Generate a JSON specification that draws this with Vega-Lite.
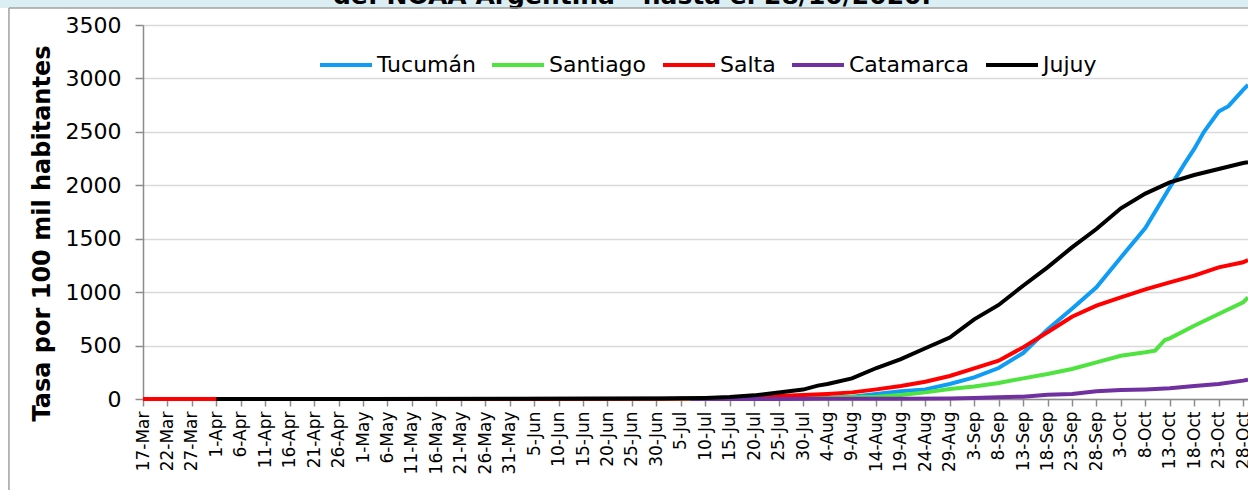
{
  "$schema": "https://vega.github.io/schema/vega-lite/v6.json",
  "width": 1105,
  "height": 374,
  "autosize": {"type": "none"},
  "padding": {"left": 143, "top": 25, "right": 0, "bottom": 91},
  "background": "white",
  "config": {"font": "DejaVu Sans", "view": {"stroke": null}},
  "resolve": {"axis": {"x": "independent", "y": "independent"}},
  "layer": [
    {
      "data": {
        "values": [
          {"provincia": "Tucumán", "fecha": "2020-03-17", "tasa": 0},
          {"provincia": "Tucumán", "fecha": "2020-04-01", "tasa": 0.5},
          {"provincia": "Tucumán", "fecha": "2020-05-01", "tasa": 0.8},
          {"provincia": "Tucumán", "fecha": "2020-06-01", "tasa": 1},
          {"provincia": "Tucumán", "fecha": "2020-07-01", "tasa": 2},
          {"provincia": "Tucumán", "fecha": "2020-07-15", "tasa": 4},
          {"provincia": "Tucumán", "fecha": "2020-07-25", "tasa": 5},
          {"provincia": "Tucumán", "fecha": "2020-07-30", "tasa": 7},
          {"provincia": "Tucumán", "fecha": "2020-08-04", "tasa": 9},
          {"provincia": "Tucumán", "fecha": "2020-08-09", "tasa": 22},
          {"provincia": "Tucumán", "fecha": "2020-08-14", "tasa": 47},
          {"provincia": "Tucumán", "fecha": "2020-08-19", "tasa": 72},
          {"provincia": "Tucumán", "fecha": "2020-08-24", "tasa": 90},
          {"provincia": "Tucumán", "fecha": "2020-08-29", "tasa": 140},
          {"provincia": "Tucumán", "fecha": "2020-09-03", "tasa": 203},
          {"provincia": "Tucumán", "fecha": "2020-09-08", "tasa": 290},
          {"provincia": "Tucumán", "fecha": "2020-09-13", "tasa": 430},
          {"provincia": "Tucumán", "fecha": "2020-09-18", "tasa": 650},
          {"provincia": "Tucumán", "fecha": "2020-09-23", "tasa": 845},
          {"provincia": "Tucumán", "fecha": "2020-09-28", "tasa": 1045},
          {"provincia": "Tucumán", "fecha": "2020-10-03", "tasa": 1325},
          {"provincia": "Tucumán", "fecha": "2020-10-08", "tasa": 1600},
          {"provincia": "Tucumán", "fecha": "2020-10-13", "tasa": 1980},
          {"provincia": "Tucumán", "fecha": "2020-10-16", "tasa": 2200},
          {"provincia": "Tucumán", "fecha": "2020-10-18", "tasa": 2340},
          {"provincia": "Tucumán", "fecha": "2020-10-20", "tasa": 2500},
          {"provincia": "Tucumán", "fecha": "2020-10-23", "tasa": 2690},
          {"provincia": "Tucumán", "fecha": "2020-10-25", "tasa": 2740},
          {"provincia": "Tucumán", "fecha": "2020-10-28", "tasa": 2892},
          {"provincia": "Tucumán", "fecha": "2020-10-29", "tasa": 2940},

          {"provincia": "Santiago", "fecha": "2020-03-17", "tasa": 0},
          {"provincia": "Santiago", "fecha": "2020-04-01", "tasa": 0},
          {"provincia": "Santiago", "fecha": "2020-05-01", "tasa": 0.2},
          {"provincia": "Santiago", "fecha": "2020-06-01", "tasa": 0.5},
          {"provincia": "Santiago", "fecha": "2020-07-01", "tasa": 1},
          {"provincia": "Santiago", "fecha": "2020-07-15", "tasa": 3},
          {"provincia": "Santiago", "fecha": "2020-07-25", "tasa": 6},
          {"provincia": "Santiago", "fecha": "2020-08-04", "tasa": 10},
          {"provincia": "Santiago", "fecha": "2020-08-09", "tasa": 16},
          {"provincia": "Santiago", "fecha": "2020-08-14", "tasa": 22},
          {"provincia": "Santiago", "fecha": "2020-08-19", "tasa": 37},
          {"provincia": "Santiago", "fecha": "2020-08-24", "tasa": 62},
          {"provincia": "Santiago", "fecha": "2020-08-29", "tasa": 94},
          {"provincia": "Santiago", "fecha": "2020-09-03", "tasa": 118},
          {"provincia": "Santiago", "fecha": "2020-09-08", "tasa": 150},
          {"provincia": "Santiago", "fecha": "2020-09-13", "tasa": 193},
          {"provincia": "Santiago", "fecha": "2020-09-18", "tasa": 234},
          {"provincia": "Santiago", "fecha": "2020-09-23", "tasa": 281},
          {"provincia": "Santiago", "fecha": "2020-09-28", "tasa": 343},
          {"provincia": "Santiago", "fecha": "2020-10-03", "tasa": 405},
          {"provincia": "Santiago", "fecha": "2020-10-08", "tasa": 437},
          {"provincia": "Santiago", "fecha": "2020-10-10", "tasa": 452},
          {"provincia": "Santiago", "fecha": "2020-10-12", "tasa": 552},
          {"provincia": "Santiago", "fecha": "2020-10-13", "tasa": 568},
          {"provincia": "Santiago", "fecha": "2020-10-18", "tasa": 686},
          {"provincia": "Santiago", "fecha": "2020-10-23", "tasa": 795},
          {"provincia": "Santiago", "fecha": "2020-10-28", "tasa": 904},
          {"provincia": "Santiago", "fecha": "2020-10-29", "tasa": 951},

          {"provincia": "Salta", "fecha": "2020-03-17", "tasa": 0.3},
          {"provincia": "Salta", "fecha": "2020-04-01", "tasa": 0.4},
          {"provincia": "Salta", "fecha": "2020-05-01", "tasa": 0.5},
          {"provincia": "Salta", "fecha": "2020-06-01", "tasa": 0.8},
          {"provincia": "Salta", "fecha": "2020-07-01", "tasa": 2},
          {"provincia": "Salta", "fecha": "2020-07-10", "tasa": 5},
          {"provincia": "Salta", "fecha": "2020-07-15", "tasa": 9},
          {"provincia": "Salta", "fecha": "2020-07-20", "tasa": 18},
          {"provincia": "Salta", "fecha": "2020-07-25", "tasa": 28},
          {"provincia": "Salta", "fecha": "2020-07-30", "tasa": 37},
          {"provincia": "Salta", "fecha": "2020-08-04", "tasa": 47},
          {"provincia": "Salta", "fecha": "2020-08-09", "tasa": 62},
          {"provincia": "Salta", "fecha": "2020-08-14", "tasa": 90},
          {"provincia": "Salta", "fecha": "2020-08-19", "tasa": 122},
          {"provincia": "Salta", "fecha": "2020-08-24", "tasa": 162},
          {"provincia": "Salta", "fecha": "2020-08-29", "tasa": 215},
          {"provincia": "Salta", "fecha": "2020-09-03", "tasa": 287},
          {"provincia": "Salta", "fecha": "2020-09-08", "tasa": 359},
          {"provincia": "Salta", "fecha": "2020-09-13", "tasa": 483},
          {"provincia": "Salta", "fecha": "2020-09-18", "tasa": 624},
          {"provincia": "Salta", "fecha": "2020-09-23", "tasa": 770},
          {"provincia": "Salta", "fecha": "2020-09-28", "tasa": 873},
          {"provincia": "Salta", "fecha": "2020-10-03", "tasa": 951},
          {"provincia": "Salta", "fecha": "2020-10-08", "tasa": 1026},
          {"provincia": "Salta", "fecha": "2020-10-13", "tasa": 1092},
          {"provincia": "Salta", "fecha": "2020-10-18", "tasa": 1154},
          {"provincia": "Salta", "fecha": "2020-10-23", "tasa": 1232},
          {"provincia": "Salta", "fecha": "2020-10-28", "tasa": 1279},
          {"provincia": "Salta", "fecha": "2020-10-29", "tasa": 1300},

          {"provincia": "Catamarca", "fecha": "2020-07-07", "tasa": 0},
          {"provincia": "Catamarca", "fecha": "2020-07-20", "tasa": 1},
          {"provincia": "Catamarca", "fecha": "2020-08-04", "tasa": 2},
          {"provincia": "Catamarca", "fecha": "2020-08-19", "tasa": 3},
          {"provincia": "Catamarca", "fecha": "2020-08-29", "tasa": 5},
          {"provincia": "Catamarca", "fecha": "2020-09-03", "tasa": 9},
          {"provincia": "Catamarca", "fecha": "2020-09-08", "tasa": 16},
          {"provincia": "Catamarca", "fecha": "2020-09-13", "tasa": 22},
          {"provincia": "Catamarca", "fecha": "2020-09-18", "tasa": 40},
          {"provincia": "Catamarca", "fecha": "2020-09-23", "tasa": 47},
          {"provincia": "Catamarca", "fecha": "2020-09-28", "tasa": 72},
          {"provincia": "Catamarca", "fecha": "2020-10-03", "tasa": 84},
          {"provincia": "Catamarca", "fecha": "2020-10-08", "tasa": 90},
          {"provincia": "Catamarca", "fecha": "2020-10-13", "tasa": 100},
          {"provincia": "Catamarca", "fecha": "2020-10-18", "tasa": 122},
          {"provincia": "Catamarca", "fecha": "2020-10-23", "tasa": 140},
          {"provincia": "Catamarca", "fecha": "2020-10-28", "tasa": 172},
          {"provincia": "Catamarca", "fecha": "2020-10-29", "tasa": 181},

          {"provincia": "Jujuy", "fecha": "2020-04-01", "tasa": 0.3},
          {"provincia": "Jujuy", "fecha": "2020-05-01", "tasa": 1},
          {"provincia": "Jujuy", "fecha": "2020-06-01", "tasa": 2},
          {"provincia": "Jujuy", "fecha": "2020-07-01", "tasa": 4},
          {"provincia": "Jujuy", "fecha": "2020-07-05", "tasa": 6},
          {"provincia": "Jujuy", "fecha": "2020-07-10", "tasa": 10},
          {"provincia": "Jujuy", "fecha": "2020-07-15", "tasa": 18},
          {"provincia": "Jujuy", "fecha": "2020-07-20", "tasa": 34},
          {"provincia": "Jujuy", "fecha": "2020-07-25", "tasa": 60},
          {"provincia": "Jujuy", "fecha": "2020-07-30", "tasa": 88},
          {"provincia": "Jujuy", "fecha": "2020-08-02", "tasa": 125},
          {"provincia": "Jujuy", "fecha": "2020-08-04", "tasa": 140},
          {"provincia": "Jujuy", "fecha": "2020-08-09", "tasa": 193},
          {"provincia": "Jujuy", "fecha": "2020-08-14", "tasa": 290},
          {"provincia": "Jujuy", "fecha": "2020-08-19", "tasa": 374},
          {"provincia": "Jujuy", "fecha": "2020-08-24", "tasa": 475},
          {"provincia": "Jujuy", "fecha": "2020-08-29", "tasa": 575},
          {"provincia": "Jujuy", "fecha": "2020-09-03", "tasa": 745},
          {"provincia": "Jujuy", "fecha": "2020-09-08", "tasa": 880},
          {"provincia": "Jujuy", "fecha": "2020-09-13", "tasa": 1060},
          {"provincia": "Jujuy", "fecha": "2020-09-18", "tasa": 1232},
          {"provincia": "Jujuy", "fecha": "2020-09-23", "tasa": 1419},
          {"provincia": "Jujuy", "fecha": "2020-09-28", "tasa": 1591},
          {"provincia": "Jujuy", "fecha": "2020-10-03", "tasa": 1785},
          {"provincia": "Jujuy", "fecha": "2020-10-08", "tasa": 1922},
          {"provincia": "Jujuy", "fecha": "2020-10-13", "tasa": 2027},
          {"provincia": "Jujuy", "fecha": "2020-10-18", "tasa": 2096},
          {"provincia": "Jujuy", "fecha": "2020-10-23", "tasa": 2152},
          {"provincia": "Jujuy", "fecha": "2020-10-28", "tasa": 2208},
          {"provincia": "Jujuy", "fecha": "2020-10-29", "tasa": 2215}
        ]
      },
      "mark": {"type": "line", "strokeWidth": 4},
      "encoding": {
        "x": {
          "field": "fecha",
          "type": "temporal",
          "scale": {
            "type": "utc",
            "nice": false,
            "domain": [
              {"year": 2020, "month": 3, "date": 17, "utc": true},
              {"year": 2020, "month": 10, "date": 29, "utc": true}
            ]
          },
          "axis": {
            "title": null,
            "grid": false,
            "format": "%-d-%b",
            "labelAngle": -90,
            "labelFontSize": 17,
            "labelFont": "DejaVu Sans",
            "labelColor": "black",
            "labelPadding": 5,
            "labelOverlap": false,
            "labelFlush": false,
            "labelBound": false,
            "tickSize": 7,
            "tickColor": "#8c8c8c",
            "tickWidth": 1.5,
            "domainColor": "#8c8c8c",
            "domainWidth": 1.5,
            "values": [
              {"year": 2020, "month": 3, "date": 17, "utc": true},
              {"year": 2020, "month": 3, "date": 22, "utc": true},
              {"year": 2020, "month": 3, "date": 27, "utc": true},
              {"year": 2020, "month": 4, "date": 1, "utc": true},
              {"year": 2020, "month": 4, "date": 6, "utc": true},
              {"year": 2020, "month": 4, "date": 11, "utc": true},
              {"year": 2020, "month": 4, "date": 16, "utc": true},
              {"year": 2020, "month": 4, "date": 21, "utc": true},
              {"year": 2020, "month": 4, "date": 26, "utc": true},
              {"year": 2020, "month": 5, "date": 1, "utc": true},
              {"year": 2020, "month": 5, "date": 6, "utc": true},
              {"year": 2020, "month": 5, "date": 11, "utc": true},
              {"year": 2020, "month": 5, "date": 16, "utc": true},
              {"year": 2020, "month": 5, "date": 21, "utc": true},
              {"year": 2020, "month": 5, "date": 26, "utc": true},
              {"year": 2020, "month": 5, "date": 31, "utc": true},
              {"year": 2020, "month": 6, "date": 5, "utc": true},
              {"year": 2020, "month": 6, "date": 10, "utc": true},
              {"year": 2020, "month": 6, "date": 15, "utc": true},
              {"year": 2020, "month": 6, "date": 20, "utc": true},
              {"year": 2020, "month": 6, "date": 25, "utc": true},
              {"year": 2020, "month": 6, "date": 30, "utc": true},
              {"year": 2020, "month": 7, "date": 5, "utc": true},
              {"year": 2020, "month": 7, "date": 10, "utc": true},
              {"year": 2020, "month": 7, "date": 15, "utc": true},
              {"year": 2020, "month": 7, "date": 20, "utc": true},
              {"year": 2020, "month": 7, "date": 25, "utc": true},
              {"year": 2020, "month": 7, "date": 30, "utc": true},
              {"year": 2020, "month": 8, "date": 4, "utc": true},
              {"year": 2020, "month": 8, "date": 9, "utc": true},
              {"year": 2020, "month": 8, "date": 14, "utc": true},
              {"year": 2020, "month": 8, "date": 19, "utc": true},
              {"year": 2020, "month": 8, "date": 24, "utc": true},
              {"year": 2020, "month": 8, "date": 29, "utc": true},
              {"year": 2020, "month": 9, "date": 3, "utc": true},
              {"year": 2020, "month": 9, "date": 8, "utc": true},
              {"year": 2020, "month": 9, "date": 13, "utc": true},
              {"year": 2020, "month": 9, "date": 18, "utc": true},
              {"year": 2020, "month": 9, "date": 23, "utc": true},
              {"year": 2020, "month": 9, "date": 28, "utc": true},
              {"year": 2020, "month": 10, "date": 3, "utc": true},
              {"year": 2020, "month": 10, "date": 8, "utc": true},
              {"year": 2020, "month": 10, "date": 13, "utc": true},
              {"year": 2020, "month": 10, "date": 18, "utc": true},
              {"year": 2020, "month": 10, "date": 23, "utc": true},
              {"year": 2020, "month": 10, "date": 28, "utc": true}
            ]
          }
        },
        "y": {
          "field": "tasa",
          "type": "quantitative",
          "scale": {"domain": [0, 3500], "nice": false, "zero": true},
          "axis": {
            "title": "Tasa por 100 mil habitantes",
            "titleFont": "DejaVu Sans",
            "titleFontSize": 24,
            "titleFontWeight": "bold",
            "titleColor": "black",
            "titlePadding": 11,
            "titleY": 208,
            "format": "d",
            "values": [0, 500, 1000, 1500, 2000, 2500, 3000, 3500],
            "labelFont": "DejaVu Sans",
            "labelFontSize": 22,
            "labelColor": "black",
            "labelPadding": 14,
            "tickSize": 8,
            "tickColor": "#8c8c8c",
            "tickWidth": 1.5,
            "domainColor": "#8c8c8c",
            "domainWidth": 1.5,
            "grid": true,
            "gridColor": "#d9d9d9",
            "gridWidth": 1.5
          }
        },
        "color": {
          "field": "provincia",
          "type": "nominal",
          "scale": {
            "domain": ["Tucumán", "Santiago", "Salta", "Catamarca", "Jujuy"],
            "range": ["#0f9cf5", "#4fe33f", "#ff0000", "#7030a0", "#000000"]
          },
          "legend": {
            "title": null,
            "orient": "none",
            "legendX": 175,
            "legendY": 12,
            "direction": "horizontal",
            "symbolType": "stroke",
            "symbolSize": 2704,
            "symbolStrokeWidth": 4,
            "labelFont": "DejaVu Sans",
            "labelFontSize": 22,
            "labelColor": "black",
            "labelOffset": 3,
            "columnPadding": 8,
            "labelLimit": 300
          }
        }
      }
    },
    {
      "data": {"values": [{}]},
      "mark": {"type": "rect", "color": "#dbeef4"},
      "encoding": {
        "x": {"datum": {"year": 2020, "month": 2, "date": 1, "utc": true}, "type": "temporal", "axis": null},
        "x2": {"datum": {"year": 2020, "month": 12, "date": 1, "utc": true}},
        "y": {"datum": 3660, "type": "quantitative", "axis": null},
        "y2": {"datum": 3734}
      }
    },
    {
      "data": {"values": [{}]},
      "mark": {"type": "text", "fontSize": 25, "fontWeight": "bold", "font": "DejaVu Sans", "color": "black", "baseline": "alphabetic", "align": "center"},
      "encoding": {
        "x": {"datum": {"year": 2020, "month": 6, "date": 25, "utc": true}, "type": "temporal", "axis": null},
        "y": {"datum": 3692, "type": "quantitative", "axis": null},
        "text": {"value": "de: NOAA Argentina - hasta el 28/10/2020."}
      }
    },
    {
      "data": {"values": [{}]},
      "mark": {"type": "rule", "color": "#a0a0a0", "strokeWidth": 1.5},
      "encoding": {
        "x": {"datum": {"year": 2020, "month": 2, "date": 18, "hours": 14, "utc": true}, "type": "temporal", "axis": null},
        "x2": {"datum": {"year": 2020, "month": 12, "date": 1, "utc": true}},
        "y": {"datum": 3660, "type": "quantitative", "axis": null}
      }
    },
    {
      "data": {"values": [{}]},
      "mark": {"type": "rule", "color": "#a0a0a0", "strokeWidth": 1.5},
      "encoding": {
        "x": {"datum": {"year": 2020, "month": 2, "date": 18, "hours": 14, "utc": true}, "type": "temporal", "axis": null},
        "y": {"datum": 3660, "type": "quantitative", "axis": null},
        "y2": {"datum": -1200}
      }
    }
  ]
}
